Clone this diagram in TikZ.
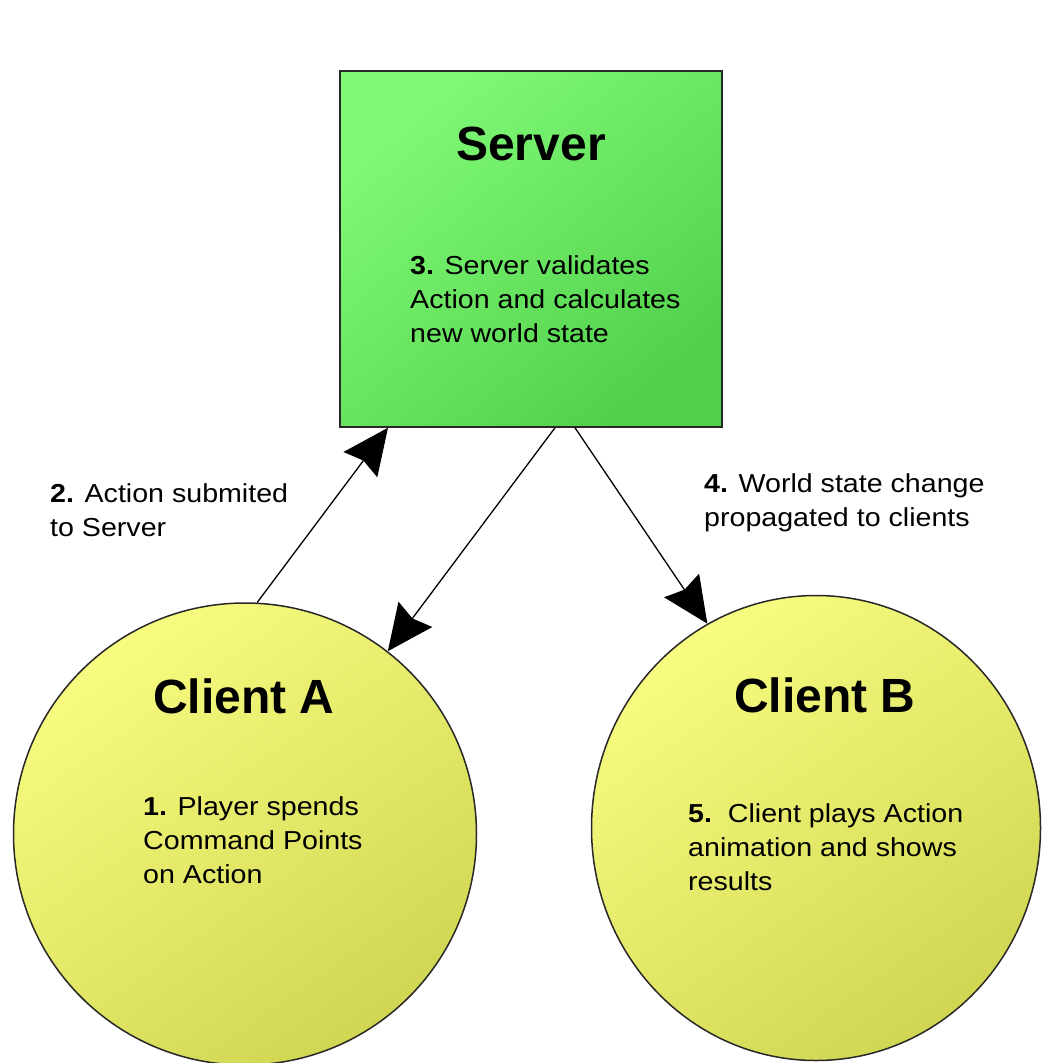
\documentclass[tikz,border=0pt]{standalone}
\usepackage{fontspec}
\setmainfont{Liberation Sans}
\newfontfamily\bodyfont[FakeStretch=1.1]{Liberation Sans}
\usetikzlibrary{arrows.meta,shapes.geometric}
\definecolor{srvlight}{RGB}{128,250,118}
\definecolor{srvdark}{RGB}{82,208,76}
\definecolor{clilight}{RGB}{248,252,128}
\definecolor{clidark}{RGB}{208,214,82}
\definecolor{edge}{RGB}{40,40,40}
\begin{document}
\begin{tikzpicture}[x=1pt,y=-1pt,
  arr/.style={-{Stealth[length=46pt,width=42pt,inset=5pt]}, line width=1.3pt, black},
  serverbox/.style={rectangle, draw=edge, line width=1.5pt, minimum width=382pt, minimum height=356pt, inner sep=0pt, top color=srvlight, bottom color=srvdark, shading angle=40},
  clientnode/.style={ellipse, draw=edge, line width=1.5pt, inner sep=0pt, top color=clilight, bottom color=clidark, shading angle=35},
  titletext/.style={anchor=base, inner sep=0pt, font=\fontsize{48}{56}\selectfont\bfseries},
  bodytext/.style={anchor=north west, inner sep=0pt, align=left, font=\bodyfont\fontsize{26}{34.3}\selectfont}
]
\useasboundingbox (0,0) rectangle (1045,1063);
\fill[white] (0,0) rectangle (1045,1063);

% shapes
\node[serverbox] (S) at (531,249) {};
\node[clientnode, minimum width=463pt, minimum height=462pt] (A) at (245,834) {};
\node[clientnode, minimum width=449pt, minimum height=465pt] (B) at (816,828) {};

% titles
\node[titletext] (St) at (531,160) {Server};
\node[titletext] (At) at (244,713) {Client A};
\node[titletext] (Bt) at (825,712) {Client B};

% body texts
\node[bodytext] (Sb) at (410,255) {\textbf{3.} Server validates\\Action and calculates\\new world state};
\node[bodytext] (Ab) at (143,796) {\textbf{1.} Player spends\\Command Points\\on Action};
\node[bodytext] (Bb) at (688,803) {\textbf{5.}\ \ Client plays Action\\animation and shows\\results};
\node[bodytext] (L2) at (50,483) {\textbf{2.} Action submited\\to Server};
\node[bodytext] (L4) at (704,473) {\textbf{4.} World state change\\propagated to clients};

% connectors
\draw[arr] (A.87) -- ([xshift=-143pt]S.south);
\draw[arr] ([xshift=24pt]S.south) -- (A.52);
\draw[arr] ([xshift=44pt]S.south) -- (B.118);
\end{tikzpicture}
\end{document}
